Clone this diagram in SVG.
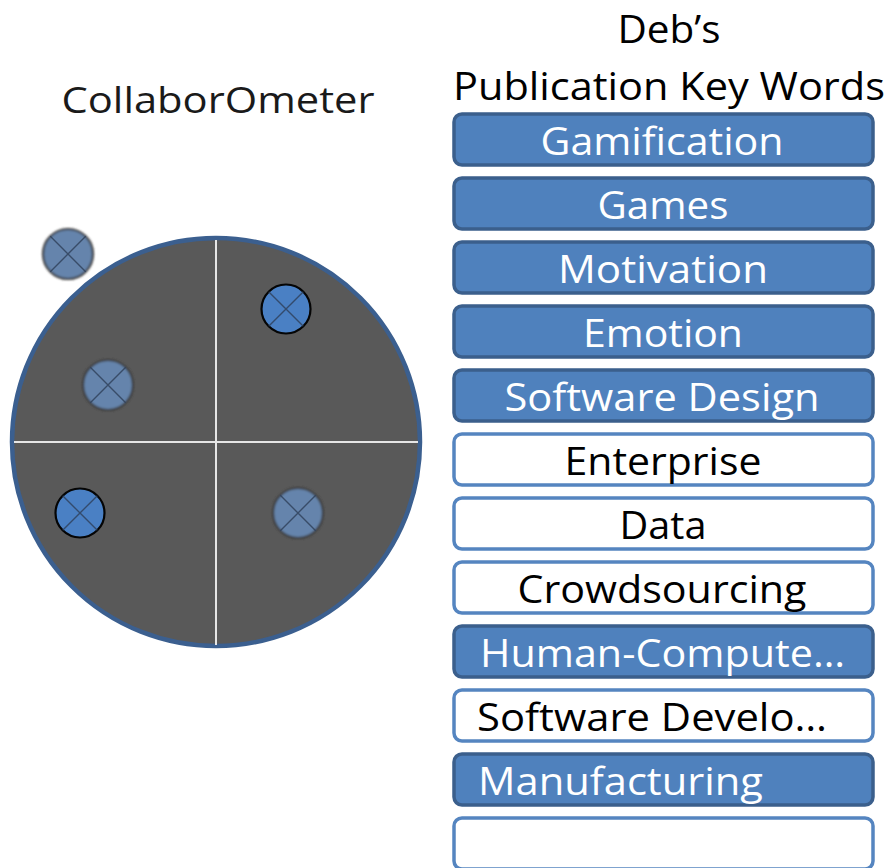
<svg xmlns="http://www.w3.org/2000/svg" width="891" height="868" viewBox="0 0 891 868">
<defs>
<style>
.t{font-family:"Open Sans","Liberation Sans",sans-serif;font-size:39px;text-anchor:middle}
.tl{text-anchor:start}
.w{fill:#ffffff}
.k{fill:#000000}
.bf{fill:#4F81BD;stroke:#3B5F8C;stroke-width:3.5}
.bo{fill:#ffffff;stroke:#5585C0;stroke-width:3.5}
.dot{stroke-width:2.2}
.dim{fill:#6584AC;stroke:#3C3C3C}
.lit{fill:#4A80C4;stroke:#050505}
.x{stroke:#2E3F58;stroke-width:1.4;opacity:0.8}
</style>
<filter id="soft" x="-20%" y="-20%" width="140%" height="140%"><feGaussianBlur stdDeviation="0.8"/></filter>
</defs>
<rect width="891" height="868" fill="#ffffff"/>
<g id="title-collab">
<text x="218" y="113" style="font-family:'Open Sans','DejaVu Sans',sans-serif;font-size:37px;fill:#1a1a1a;text-anchor:middle" textLength="313" lengthAdjust="spacingAndGlyphs">CollaborOmeter</text>
</g>
<g id="title-keywords">
<text class="t k" x="669" y="43" textLength="103" lengthAdjust="spacingAndGlyphs">Deb’s</text>
<text class="t k" x="669" y="100" textLength="432" lengthAdjust="spacingAndGlyphs">Publication Key Words</text>
</g>
<g id="meter">
<circle cx="216" cy="442" r="204" fill="#595959" stroke="#3B5F8F" stroke-width="4.5"/>
<line x1="216" y1="240" x2="216" y2="645" stroke="#E6E6E6" stroke-width="2"/>
<line x1="14" y1="442" x2="418" y2="442" stroke="#E6E6E6" stroke-width="2"/>
</g>
<g id="dot-outside">
<circle class="dot dim" cx="68" cy="254" r="25" filter="url(#soft)"/>
<path class="x" d="M50.3 236.3L85.7 271.7M85.7 236.3L50.3 271.7"/>
</g>
<g id="dot-upper-right">
<circle class="dot lit" cx="286" cy="309" r="24.5"/>
<path class="x" d="M268.7 291.7L303.3 326.3M303.3 291.7L268.7 326.3"/>
</g>
<g id="dot-upper-left">
<circle class="dot dim" cx="108" cy="385" r="25" filter="url(#soft)"/>
<path class="x" d="M90.3 367.3L125.7 402.7M125.7 367.3L90.3 402.7"/>
</g>
<g id="dot-lower-left">
<circle class="dot lit" cx="80" cy="513" r="24.5"/>
<path class="x" d="M62.7 495.7L97.3 530.3M97.3 495.7L62.7 530.3"/>
</g>
<g id="dot-lower-right">
<circle class="dot dim" cx="298" cy="513" r="25" filter="url(#soft)"/>
<path class="x" d="M280.3 495.3L315.7 530.7M315.7 495.3L280.3 530.7"/>
</g>
<g id="connectors"></g>
<g id="kw-gamification"><rect class="bf" x="454" y="114" width="419" height="51" rx="8"/><text class="t w" x="662" y="155" textLength="243" lengthAdjust="spacingAndGlyphs">Gamification</text></g>
<g id="kw-games"><rect class="bf" x="454" y="178" width="419" height="51" rx="8"/><text class="t w" x="663" y="219" textLength="131" lengthAdjust="spacingAndGlyphs">Games</text></g>
<g id="kw-motivation"><rect class="bf" x="454" y="242" width="419" height="51" rx="8"/><text class="t w" x="663" y="283" textLength="210" lengthAdjust="spacingAndGlyphs">Motivation</text></g>
<g id="kw-emotion"><rect class="bf" x="454" y="306" width="419" height="51" rx="8"/><text class="t w" x="663" y="347" textLength="160" lengthAdjust="spacingAndGlyphs">Emotion</text></g>
<g id="kw-software-design"><rect class="bf" x="454" y="370" width="419" height="51" rx="8"/><text class="t w" x="662" y="411" textLength="315" lengthAdjust="spacingAndGlyphs">Software Design</text></g>
<g id="kw-enterprise"><rect class="bo" x="454" y="434" width="419" height="51" rx="8"/><text class="t k" x="663" y="475" textLength="197" lengthAdjust="spacingAndGlyphs">Enterprise</text></g>
<g id="kw-data"><rect class="bo" x="454" y="498" width="419" height="51" rx="8"/><text class="t k" x="663" y="539" textLength="87" lengthAdjust="spacingAndGlyphs">Data</text></g>
<g id="kw-crowdsourcing"><rect class="bo" x="454" y="562" width="419" height="51" rx="8"/><text class="t k" x="662" y="603" textLength="289" lengthAdjust="spacingAndGlyphs">Crowdsourcing</text></g>
<g id="kw-hci"><rect class="bf" x="454" y="626" width="419" height="51" rx="8"/><text class="t w tl" x="480" y="667" textLength="365" lengthAdjust="spacingAndGlyphs">Human-Compute…</text></g>
<g id="kw-software-dev"><rect class="bo" x="454" y="690" width="419" height="51" rx="8"/><text class="t k tl" x="477" y="731" textLength="350" lengthAdjust="spacingAndGlyphs">Software Develo…</text></g>
<g id="kw-manufacturing"><rect class="bf" x="454" y="754" width="419" height="51" rx="8"/><text class="t w tl" x="478" y="795" textLength="285" lengthAdjust="spacingAndGlyphs">Manufacturing</text></g>
<g id="kw-empty"><rect class="bo" x="454" y="818" width="419" height="51" rx="8"/></g>
</svg>
